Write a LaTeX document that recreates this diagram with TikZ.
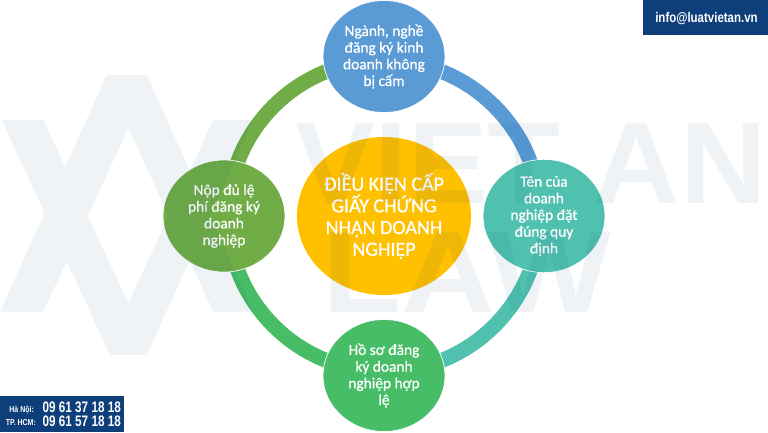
\documentclass[tikz,border=0pt]{standalone}
\usepackage{fontspec}
\setmainfont{Carlito}
\newfontfamily\stepfont{Carlito}[FakeBold=0.7]
\newfontfamily\boxfont{Liberation Sans}
\usetikzlibrary{shapes.geometric, backgrounds}
\definecolor{boxblue}{HTML}{0E3F7B}
\definecolor{markblue}{HTML}{0C457E}
\definecolor{stepblue}{HTML}{5B9BD5}
\definecolor{stepteal}{HTML}{4FC1AE}
\definecolor{stepgreen}{HTML}{47BD68}
\definecolor{stepolive}{HTML}{70AD47}
\definecolor{coreyellow}{HTML}{FFC000}
\tikzset{
	stepnode/.style = {ellipse, draw = white, line width = 0.7pt, minimum width = 122pt, minimum height = 112pt, inner sep = 0pt, align = center, text = white, font = \stepfont\fontsize{15.4}{16.7}\selectfont},
	ringarc/.style = {line width = 15pt, line cap = butt},
	markletters/.style = {anchor = base west, inner sep = 0pt, text = markblue, text opacity = 0.065, font = \boxfont\bfseries\fontsize{116}{116}\selectfont},
	boxtext/.style = {inner sep = 0pt, text = white, font = \boxfont\bfseries, xscale = 0.82, transform shape},
}

\begin{document}
\begin{tikzpicture}[x = 1pt, y = -1pt]
	\useasboundingbox (0, 0) rectangle (768, 432);
	
	\node[stepnode, fill = stepblue] (nganh) at (384, 56.5) {Ngành, nghề\\đăng ký kinh\\doanh không\\bị cấm};
	\node[stepnode, fill = stepteal] (ten) at (544, 216) {Tên của\\doanh\\nghiệp đặt\\đúng quy\\định};
	\node[stepnode, fill = stepgreen] (hoso) at (384, 375.5) {Hồ sơ đăng\\ký doanh\\nghiệp hợp\\lệ};
	\node[stepnode, fill = stepolive] (lephi) at (224, 216) {Nộp đủ lệ\\phí đăng ký\\doanh\\nghiệp};
	\node[ellipse, fill = coreyellow, minimum width = 174pt, minimum height = 158pt, inner sep = 0pt, align = center, text = white, font = \stepfont\fontsize{20}{21.7}\selectfont] (dieukien) at (384, 216) {ĐIỀU KIỆN CẤP\\GIẤY CHỨNG\\NHẬN DOANH\\NGHIỆP};
	
	\begin{scope}[on background layer]
		\draw[ringarc, stepblue] ([yshift = -4pt]nganh.center) to[out = 0, in = 90] ([xshift = -4pt]ten.center);
		\draw[ringarc, stepteal] ([xshift = -4pt]ten.center) to[out = -90, in = 0] ([yshift = 4pt]hoso.center);
		\draw[ringarc, stepgreen] ([yshift = 4pt]hoso.center) to[out = 180, in = -90] ([xshift = 4pt]lephi.center);
		\draw[ringarc, stepolive] ([xshift = 4pt]lephi.center) to[out = 90, in = 180] ([yshift = -4pt]nganh.center);
	\end{scope}
	
	\fill[markblue, fill opacity = 0.065]
		(0, 311.7) -- (43.3, 311.7) -- (128.3, 128.3) -- (213.3, 311.7) -- (253.3, 311.7) -- (146.7, 75) -- (106.7, 75) -- cycle
		(110, 355) -- (146.7, 355) -- (253.3, 120) -- (213.3, 120) -- (128.3, 303.3) -- (43.3, 120) -- (1.7, 120) -- cycle;
	\node[markletters, xscale = 1.03, transform shape] (vietan) at (295, 203) {VIET AN};
	\node[markletters, xscale = 1.12, transform shape] (law) at (322, 312) {LAW};
	
	\fill[boxblue] (643, 0) rectangle (768, 35);
	\node[boxtext, font = \boxfont\bfseries\fontsize{14}{14}\selectfont, anchor = base] (mail) at (706.5, 22.5) {info@luatvietan.vn};
	
	\fill[boxblue] (0, 396) rectangle (124, 432);
	\node[boxtext, font = \boxfont\bfseries\fontsize{8.5}{8.5}\selectfont, anchor = base east] (hanoi) at (34, 412) {Hà Nội:};
	\node[boxtext, font = \boxfont\bfseries\fontsize{8.5}{8.5}\selectfont, anchor = base east] (hcm) at (36, 425) {TP. HCM:};
	\node[boxtext, xscale = 0.94, font = \boxfont\bfseries\fontsize{15.2}{15.2}\selectfont, anchor = base east] (sohanoi) at (121, 412) {09 61 37 18 18};
	\node[boxtext, xscale = 0.94, font = \boxfont\bfseries\fontsize{15.2}{15.2}\selectfont, anchor = base east] (sohcm) at (121, 426) {09 61 57 18 18};
\end{tikzpicture}
\end{document}
